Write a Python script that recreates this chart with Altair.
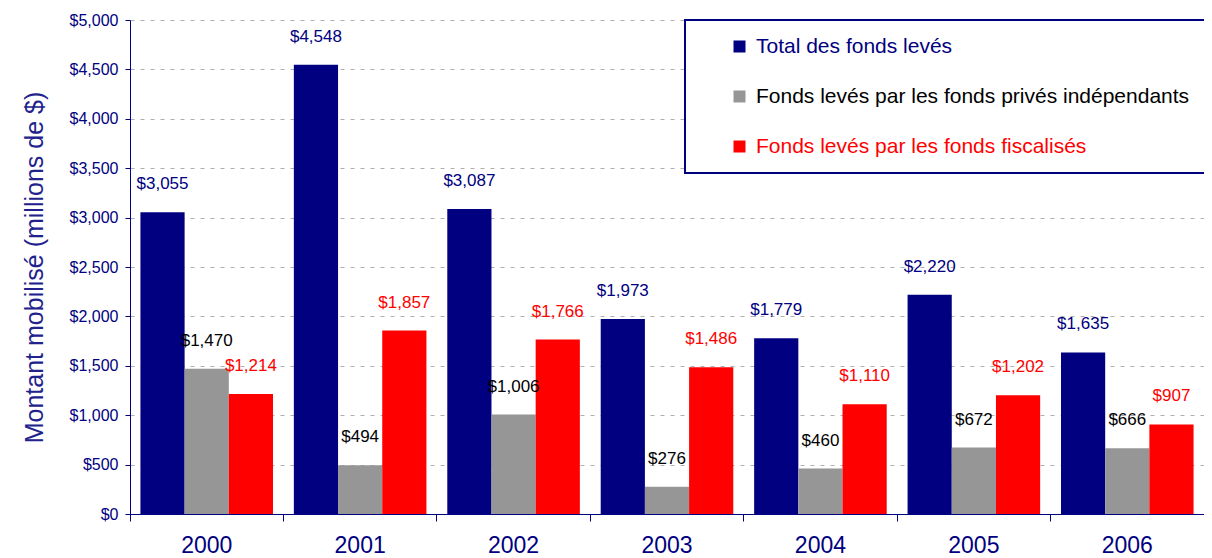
import altair as alt
import pandas as pd

years = ["2000", "2001", "2002", "2003", "2004", "2005", "2006"]
series = ["Total des fonds levés",
          "Fonds levés par les fonds privés indépendants",
          "Fonds levés par les fonds fiscalisés"]
total = [3055, 4548, 3087, 1973, 1779, 2220, 1635]
prives = [1470, 494, 1006, 276, 460, 672, 666]
fiscal = [1214, 1857, 1766, 1486, 1110, 1202, 907]

rows = []
for i, y in enumerate(years):
    for s, vals in zip(series, [total, prives, fiscal]):
        rows.append({"year": y, "series": s, "value": vals[i]})
df = pd.DataFrame(rows)

NAVY = "#000080"
FONT = "Liberation Sans"

x = alt.X("year:N", sort=years, title=None,
          scale=alt.Scale(paddingInner=0, paddingOuter=0),
          axis=alt.Axis(bandPosition=0, labelAngle=0,
                        labelFontSize=23, labelColor=NAVY, labelFont=FONT,
                        labelPadding=13, tickSize=7, tickColor=NAVY,
                        domainColor=NAVY, grid=False))
xo = alt.XOffset("series:N", sort=series,
                 scale=alt.Scale(paddingOuter=0.236, paddingInner=0))
y = alt.Y("value:Q", title="Montant mobilisé (millions de $)",
          scale=alt.Scale(domain=[0, 5000], nice=False),
          axis=alt.Axis(values=list(range(0, 5001, 500)), format="$,.0f",
                        labelFontSize=16, labelColor=NAVY, labelFont=FONT,
                        labelPadding=7, tickSize=5, tickColor=NAVY,
                        domainColor=NAVY, grid=True, gridColor="#b0b0b0",
                        gridDash=[4, 6], titleFontSize=25, titleFont=FONT,
                        titleFontWeight="normal", titleColor="#22228c",
                        titlePadding=22))

bars = alt.Chart(df).mark_bar().encode(
    x=x, xOffset=xo, y=y,
    color=alt.Color("series:N", sort=series,
                    scale=alt.Scale(domain=series, range=[NAVY, "#969696", "#ff0000"]),
                    legend=alt.Legend(title=None, orient="none", legendX=555, legendY=0,
                                      direction="vertical", fillColor="white",
                                      strokeColor=NAVY, padding=16, rowPadding=28,
                                      symbolType="square", symbolSize=144,
                                      symbolStrokeWidth=0, symbolOffset=28,
                                      labelOffset=6, labelFontSize=21, labelFont=FONT,
                                      labelLimit=600,
                                      labelColor=alt.ExprRef(expr="datum.value == 'Total des fonds levés' ? '#000080' : (datum.value == 'Fonds levés par les fonds fiscalisés' ? '#ff0000' : '#000000')")))
)

labels = alt.Chart(df).mark_text(baseline="middle", dy=-28, fontSize=17, font=FONT).encode(
    x=x, xOffset=xo, y=y,
    text=alt.Text("value:Q", format="$,.0f"),
    color=alt.Color("series:N", sort=series,
                    scale=alt.Scale(domain=series, range=[NAVY, "#000000", "#ff0000"]),
                    legend=None)
)

chart = alt.layer(bars, labels).resolve_scale(color="independent").properties(
    width=1074, height=494,
    autosize=alt.AutoSizeParams(type="none"),
    padding={"left": 122, "top": 12, "right": 0, "bottom": 44},
    background="white"
).configure_view(stroke=None).configure_legend(strokeWidth=2)

chart.save("out.html", embed_options={"renderer": "svg", "actions": False})
